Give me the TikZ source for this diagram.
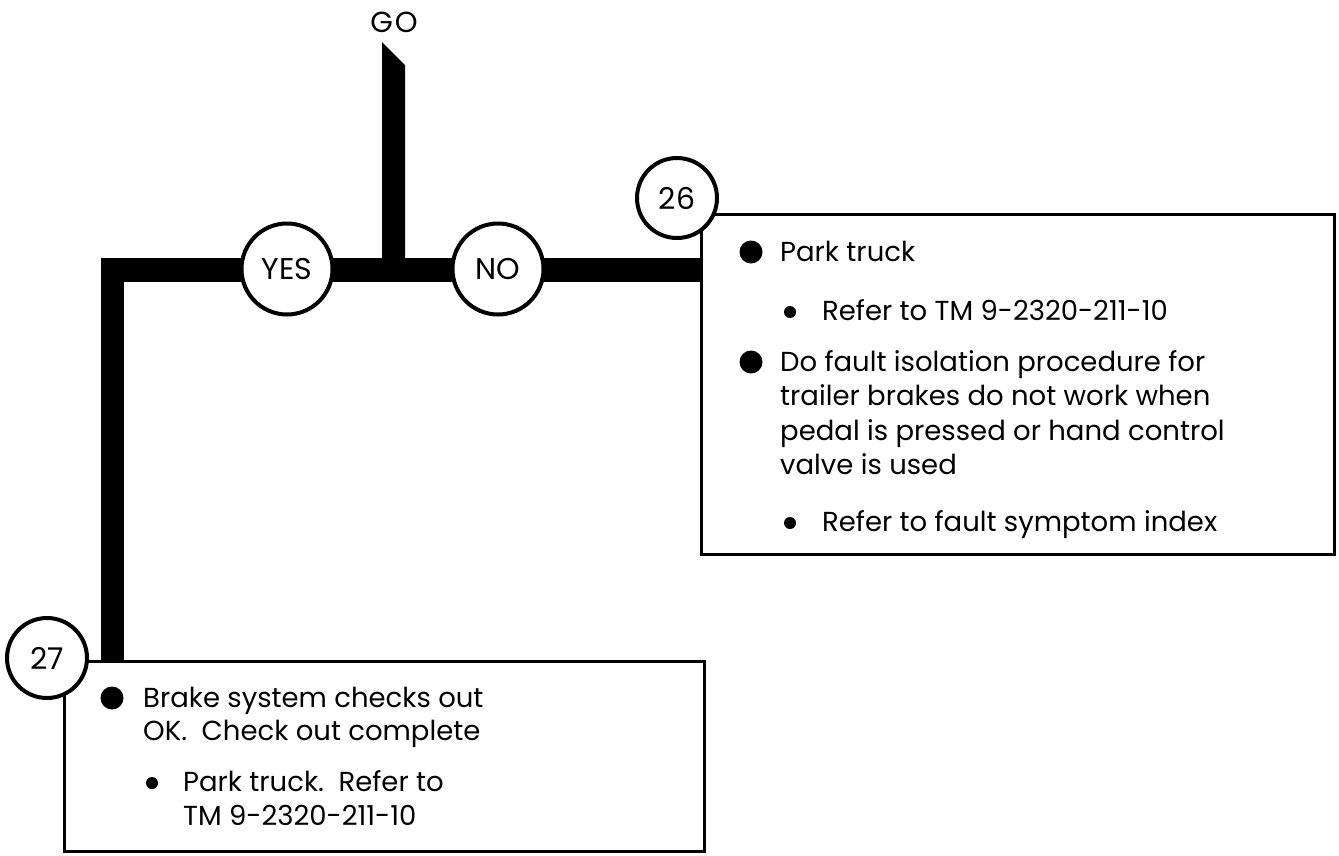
\documentclass[tikz,border=0pt]{standalone}
\usepackage{fontspec}
\setmainfont{Poppins}
\begin{document}
\begin{tikzpicture}[x=1pt,y=-1pt,
  bar/.style={line width=23.5pt, line join=miter},
  boxline/.style={draw, line width=3pt, inner sep=0pt, anchor=north west},
  ring/.style={circle, draw, line width=4pt, fill=white, inner sep=0pt, font=\fontsize{30}{32}\selectfont},
  txt/.style={anchor=base west, inner sep=0pt, font=\fontsize{27.5}{33}\selectfont},
  bigdot/.style={circle, fill=black, inner sep=0pt, minimum size=23pt},
  smalldot/.style={circle, fill=black, inner sep=0pt, minimum size=12pt}]
\useasboundingbox (0,0) rectangle (1339,855);

% boxes
\node[boxline, minimum width=633pt, minimum height=340pt] (box26) at (700,213) {};
\node[boxline, minimum width=640pt, minimum height=190pt] (box27) at (63,660) {};

% GO label and stem
\node[txt, anchor=center, font=\fontsize{29}{30}\selectfont] (go) at (394,22) {G\kern2ptO};
\coordinate (j) at (393.5,270);
\coordinate (corner) at (112.5,270);
\fill ([xshift=-11.5pt]j) -- (382,42) -- (405,65) -- ([xshift=11.5pt]j) -- cycle;

% main thick connector
\draw[bar] (box26.west |- j) -- (corner) -- (corner |- box27.north);

% circles
\node[ring, minimum size=91pt] (yes) at (287,269) {YES};
\node[ring, minimum size=91pt] (no) at (498,269) {NO};
\node[ring, minimum size=80pt] (c26) at (677,198) {26};
\node[ring, minimum size=80pt] (c27) at (47,658) {27};

% box 26 text
\node[bigdot] (b1) at (751,252) {};
\node[txt] (t1) at (780,261) {Park truck};
\node[smalldot] (s1) at (790,312) {};
\node[txt] (t2) at (822,320) {Refer to TM 9-2320-211-10};
\node[bigdot] (b2) at (751,362) {};
\node[txt] (t3) at (780,371) {Do fault isolation procedure for};
\node[txt] (t4) at (780,405) {trailer brakes do not work when};
\node[txt] (t5) at (780,440) {pedal is pressed or hand control};
\node[txt] (t6) at (780,474) {valve is used};
\node[smalldot] (s2) at (790,523) {};
\node[txt] (t7) at (822,531) {Refer to fault symptom index};

% box 27 text
\node[bigdot] (b3) at (112,698) {};
\node[txt] (u1) at (143,707) {Brake system checks out};
\node[txt] (u2) at (143,740) {OK.\ \ Check out complete};
\node[smalldot] (s3) at (152,783) {};
\node[txt] (u3) at (183,791) {Park truck.\ \ Refer to};
\node[txt] (u4) at (183,825) {TM 9-2320-211-10};
\end{tikzpicture}
\end{document}
